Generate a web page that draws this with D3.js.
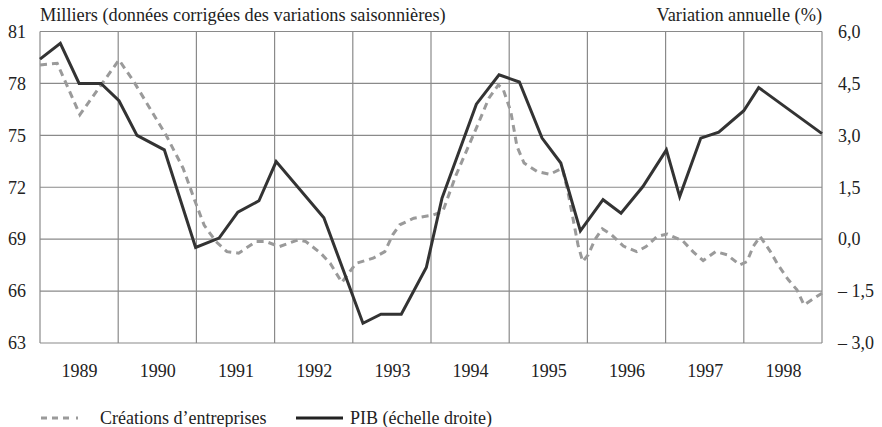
<!DOCTYPE html>
<html><head><meta charset="utf-8">
<script src="https://cdn.jsdelivr.net/npm/d3@7"></script>
<style>
body{margin:0;background:#fff;}
</style></head>
<body><svg id="c" width="882" height="427"></svg>
<script>
const years = [1989,1990,1991,1992,1993,1994,1995,1996,1997,1998];
const leftTicks = [63,66,69,72,75,78,81];
const rightTicks = [-3,-1.5,0,1.5,3,4.5,6];
const rightTickLabels = ["\u2013 3,0","\u2013 1,5","0,0","1,5","3,0","4,5","6,0"];

const creationsDates = [1989.00,1989.22,1989.51,1990.01,1990.20,1990.61,1990.83,1990.99,1991.10,1991.25,1991.39,1991.54,1991.76,1991.89,1992.06,1992.30,1992.40,1992.59,1992.71,1992.86,1993.04,1993.26,1993.41,1993.51,1993.60,1993.78,1994.03,1994.15,1994.32,1994.58,1994.74,1994.86,1994.92,1995.02,1995.10,1995.19,1995.36,1995.52,1995.68,1995.75,1995.88,1995.94,1996.01,1996.10,1996.19,1996.31,1996.46,1996.63,1996.75,1996.89,1997.02,1997.22,1997.35,1997.48,1997.64,1997.79,1997.95,1998.04,1998.12,1998.21,1998.34,1998.44,1998.57,1998.68,1998.77,1999.00];
const creationsValues = [79.07,79.16,76.19,79.36,78.1,75.03,73.1,71.1,69.8,68.86,68.28,68.19,68.86,68.86,68.57,68.96,68.86,68.19,67.61,66.5,67.6,67.9,68.28,69.25,69.83,70.21,70.40,70.6,72.7,75.42,77.15,77.9,77.7,76.38,74.35,73.4,72.9,72.75,73.1,71.75,68.67,67.7,68.1,69.0,69.6,69.25,68.6,68.28,68.57,69.15,69.3,68.9,68.28,67.76,68.28,68.09,67.51,67.7,68.57,69.15,68.28,67.5,66.65,66.07,65.2,65.88];

const pibDates = [1989.00,1989.26,1989.50,1989.78,1990.01,1990.24,1990.59,1990.99,1991.29,1991.53,1991.80,1992.02,1992.63,1993.13,1993.36,1993.62,1993.94,1994.14,1994.58,1994.87,1995.13,1995.42,1995.66,1995.91,1996.20,1996.43,1996.71,1997.01,1997.18,1997.45,1997.68,1998.00,1998.19,1999.00];
const pibValues = [5.2,5.66,4.5,4.5,4.0,3.0,2.58,-0.24,0.03,0.78,1.11,2.24,0.62,-2.43,-2.17,-2.17,-0.82,1.18,3.9,4.75,4.54,2.92,2.2,0.24,1.14,0.75,1.52,2.58,1.23,2.92,3.09,3.71,4.38,3.05];

const svg = d3.select("#c");
const L = 40, R = 822, T = 31.5, B = 343;
const FS = "18px";
const FF = "'Liberation Serif', 'Times New Roman', Times, serif";
const x = d3.scaleLinear().domain([1989,1999]).range([L,R]);
const yL = d3.scaleLinear().domain([63,81]).range([B,T]);
const yR = d3.scaleLinear().domain([-3,6]).range([B,T]);

const grid = svg.append("g").attr("stroke","#8a8a8a").attr("stroke-width",1.2);
leftTicks.forEach(v=>grid.append("line").attr("x1",L).attr("x2",R).attr("y1",yL(v)).attr("y2",yL(v)));
d3.range(1989,2000).forEach(v=>grid.append("line").attr("x1",x(v)).attr("x2",x(v)).attr("y1",T).attr("y2",B));

const styleAxis = g => { g.select(".domain").remove();
  g.attr("font-family",FF).attr("font-size",FS);
  g.selectAll("text").style("font-family",FF).style("font-size",FS).attr("fill","#222"); };

const ga = svg.append("g").attr("transform",`translate(${L-14},0)`)
  .call(d3.axisLeft(yL).tickValues(leftTicks).tickSize(0).tickPadding(0).tickFormat(d3.format("d")));
styleAxis(ga);

const gr = svg.append("g").attr("transform",`translate(${R+16},0)`)
  .call(d3.axisRight(yR).tickValues(rightTicks).tickSize(0).tickPadding(0).tickFormat((d,i)=>rightTickLabels[i]));
styleAxis(gr);

const gx = svg.append("g").attr("transform",`translate(0,${B})`)
  .call(d3.axisBottom(x).tickValues(years.map(v=>v+0.5)).tickSize(0).tickPadding(21).tickFormat((d,i)=>years[i]));
styleAxis(gx);

const txt = (xx,yy,s,size,anchor) => svg.append("text").attr("x",xx).attr("y",yy)
  .attr("text-anchor",anchor||"start").style("font-family",FF).style("font-size",size).attr("fill","#222").text(s);

txt(L,21,"Milliers (données corrigées des variations saisonnières)","18.3px");
txt(R,21,"Variation annuelle (%)","18.3px","end");

const creations = creationsDates.map((d,i)=>[d,creationsValues[i]]);
const pib = pibDates.map((d,i)=>[d,pibValues[i]]);

svg.append("path").datum(creations)
  .attr("d",d3.line().x(d=>x(d[0])).y(d=>yL(d[1])))
  .attr("fill","none").attr("stroke","#9a9a9a").attr("stroke-width",3).attr("stroke-dasharray","7,5");
svg.append("path").datum(pib)
  .attr("d",d3.line().x(d=>x(d[0])).y(d=>yR(d[1])))
  .attr("fill","none").attr("stroke","#333").attr("stroke-width",3).attr("stroke-linejoin","miter");

// legend
const ly = 418;
svg.append("line").attr("x1",41).attr("x2",82).attr("y1",ly).attr("y2",ly)
  .attr("stroke","#9a9a9a").attr("stroke-width",3).attr("stroke-dasharray","6,5,6,5,6,7,2,20");
txt(100,ly+6,"Créations d’entreprises",FS);
svg.append("line").attr("x1",296).attr("x2",343).attr("y1",ly).attr("y2",ly)
  .attr("stroke","#222").attr("stroke-width",3.2);
txt(350,ly+6,"PIB (échelle droite)",FS);
</script></body></html>
